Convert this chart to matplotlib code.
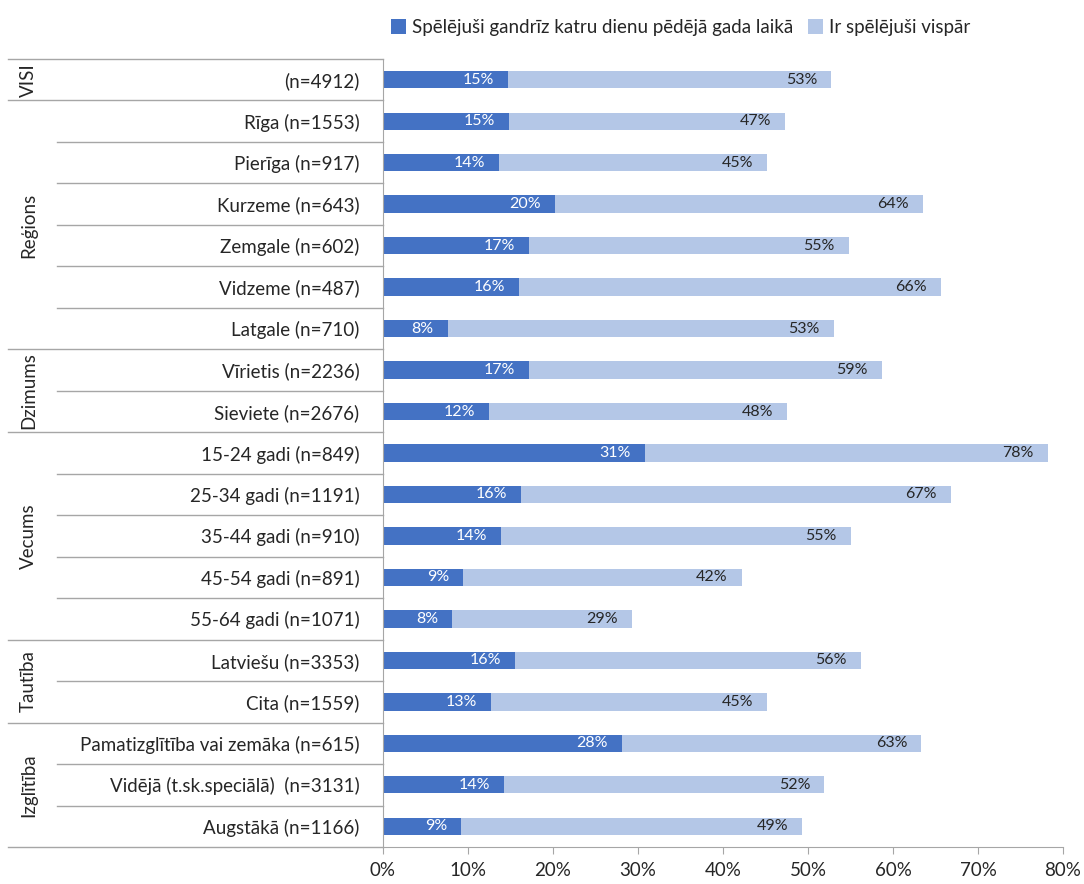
import matplotlib.pyplot as plt
import matplotlib.transforms as mtransforms

plt.rcParams['font.family'] = ['Lato', 'DejaVu Sans']

categories = ['(n=4912)', 'Rīga (n=1553)', 'Pierīga (n=917)', 'Kurzeme (n=643)',
              'Zemgale (n=602)', 'Vidzeme (n=487)', 'Latgale (n=710)',
              'Vīrietis (n=2236)', 'Sieviete (n=2676)',
              '15-24 gadi (n=849)', '25-34 gadi (n=1191)', '35-44 gadi (n=910)',
              '45-54 gadi (n=891)', '55-64 gadi (n=1071)',
              'Latviešu (n=3353)', 'Cita (n=1559)',
              'Pamatizglītība vai zemāka (n=615)', 'Vidējā (t.sk.speciālā)  (n=3131)',
              'Augstākā (n=1166)']
daily = [14.7, 14.8, 13.6, 20.2, 17.2, 16.0, 7.6, 17.2, 12.5,
         30.8, 16.2, 13.9, 9.4, 8.1, 15.5, 12.7, 28.1, 14.2, 9.2]
ever = [52.7, 47.3, 45.2, 63.5, 54.8, 65.6, 53.0, 58.7, 47.5,
        78.2, 66.8, 55.0, 42.2, 29.3, 56.2, 45.2, 63.3, 51.9, 49.3]
groups = ['VISI', 'Reģions', 'Dzimums', 'Vecums', 'Tautība', 'Izglītība']
group_sizes = [1, 6, 2, 5, 2, 3]
legend_labels = ['Spēlējuši gandrīz katru dienu pēdējā gada laikā', 'Ir spēlējuši vispār']

dark = '#4472C4'
light = '#B4C7E7'
grid = '#A6A6A6'
txt = '#262626'

fig = plt.figure(figsize=(10.84, 8.84), dpi=100)
ax = fig.add_axes([383 / 1084, 1 - 847 / 884, (1063 - 383) / 1084, (847 - 59) / 884])

y = list(range(len(categories)))
h = 0.42
b2 = ax.barh(y, ever, height=h, color=light, label=legend_labels[1])
b1 = ax.barh(y, daily, height=h, color=dark, label=legend_labels[0])

for i in y:
    ax.annotate(f'{daily[i]:.0f}%', (daily[i], i), xytext=(-10, 0), textcoords='offset points',
                ha='right', va='center', color='white', fontsize=11.5)
    ax.annotate(f'{ever[i]:.0f}%', (ever[i], i), xytext=(-10, 0), textcoords='offset points',
                ha='right', va='center', color=txt, fontsize=11.5)

ax.set_xlim(0, 80)
ax.set_ylim(len(categories) - 0.5, -0.5)
ax.set_xticks(range(0, 81, 10))
ax.set_xticklabels([f'{v}%' for v in range(0, 81, 10)], fontsize=13.5, color=txt)
ax.set_yticks(y)
ax.set_yticklabels(categories, fontsize=13.5, color=txt)
ax.tick_params(axis='y', length=0, pad=17)
ax.tick_params(axis='x', length=5, color=grid, pad=6)
for s in ['top', 'right']:
    ax.spines[s].set_visible(False)
ax.spines['left'].set_color(grid)
ax.spines['bottom'].set_color(grid)

# separator lines in the label area
trans = mtransforms.blended_transform_factory(ax.transAxes, ax.transData)
x_outer = (8 - 383) / (1063 - 383)
x_inner = (57 - 383) / (1063 - 383)
bounds = [-0.5]
for n in group_sizes:
    bounds.append(bounds[-1] + n)
for k in range(len(categories) + 1):
    yb = k - 0.5
    x0 = x_outer if yb in bounds else x_inner
    ax.plot([x0, 0], [yb, yb], transform=trans, color=grid, lw=1, clip_on=False)

start = -0.5
for g, n in zip(groups, group_sizes):
    ax.text(x_outer + 0.03, start + n / 2, g, transform=trans, rotation=90,
            ha='center', va='center', fontsize=13.5, color=txt)
    start += n

fig.legend(handles=[b1, b2], labels=legend_labels, loc='center', bbox_to_anchor=(0.628, 0.969),
           ncol=2, frameon=False, fontsize=13.5, handlelength=0.8, handleheight=0.8,
           handletextpad=0.3, columnspacing=0.8, labelcolor=txt)

plt.savefig('out.png', dpi=100)
